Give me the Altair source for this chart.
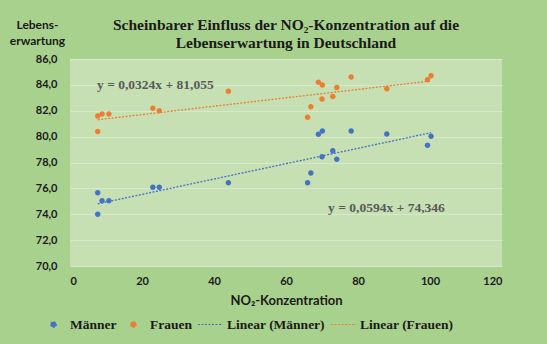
import altair as alt
import pandas as pd

# NO2 concentration (x) and life expectancy (y)
no2 = [7.7, 8.9, 10.8, 7.7, 23.0, 24.8, 44.0, 66.0, 66.9, 69.0, 70.1, 70.0, 73.0, 74.1, 78.1, 88.0, 99.3, 100.3]
maenner = [75.67, 75.05, 75.05, 74.0, 76.08, 76.08, 76.44, 76.44, 77.19, 80.18, 80.44, 78.45, 78.9, 78.25, 80.44, 80.2, 79.33, 80.03]
frauen = [81.6, 81.75, 81.75, 80.4, 82.2, 82.0, 83.5, 81.5, 82.3, 84.2, 84.0, 82.9, 83.1, 83.8, 84.6, 83.7, 84.4, 84.7]

series_names = ["Männer", "Frauen", "Linear (Männer)", "Linear (Frauen)"]
series_colors = ["#4472c4", "#ed7d31", "#4472c4", "#ed7d31"]
trend_slope = [0.0594, 0.0324]
trend_icept = [74.346, 81.055]
eq_labels = ["y = 0,0594x + 74,346", "y = 0,0324x + 81,055"]
eq_x = [71.7, 7.5]
eq_y = [74.5, 84.0]

rows = []
for x, m, f in zip(no2, maenner, frauen):
    rows.append({"x": x, "y": m, "series": "Männer"})
    rows.append({"x": x, "y": f, "series": "Frauen"})
pts = pd.DataFrame(rows)

xmin, xmax = min(no2), max(no2)
trows = []
for name, s, b in zip(["Linear (Männer)", "Linear (Frauen)"], trend_slope, trend_icept):
    for x in (xmin, xmax):
        trows.append({"x": x, "y": s * x + b, "series": name})
trend = pd.DataFrame(trows)

eqs = pd.DataFrame({"x": eq_x, "y": eq_y, "label": eq_labels})

DOT = "M -0.22,0 A 0.22,0.22 0 1,0 0.22,0 A 0.22,0.22 0 1,0 -0.22,0 Z"
LINE = "M -1,0 L 1,0"
color_scale = alt.Scale(domain=series_names, range=series_colors)
shape_scale = alt.Scale(domain=series_names, range=[DOT, DOT, LINE, LINE])

xscale = alt.Scale(domain=[0, 120], zero=False, nice=False)
yscale = alt.Scale(domain=[70, 86], zero=False, nice=False)

xaxis = alt.Axis(values=[0, 20, 40, 60, 80, 100, 120], grid=False, domain=False, ticks=False,
                 title="NO₂-Konzentration", labelPadding=9, titlePadding=8, labelOverlap=False,
                 labelFont="Lato", labelFontWeight="bold", labelFontSize=11, labelColor="#1a1a1a",
                 titleFont="Lato", titleFontWeight="bold", titleFontSize=13, titleColor="#1a1a1a")
yaxis = alt.Axis(values=[70, 72, 74, 76, 78, 80, 82, 84, 86], grid=True, gridColor="#d6e9ca",
                 gridWidth=1, domain=False, ticks=False, labelPadding=13, labelOverlap=False,
                 labelExpr="replace(format(datum.value, '.1f'), '.', ',')",
                 labelFont="Lato", labelFontWeight="bold", labelFontSize=11, labelColor="#1a1a1a",
                 title=["Lebens-", "erwartung"], titleAngle=0, titleAlign="center",
                 titleBaseline="alphabetic", titleX=-33, titleY=-31, titleLineHeight=16,
                 titleFont="Lato", titleFontWeight="bold", titleFontSize=12, titleColor="#1a1a1a")

legend = alt.Legend(title=None, orient="none", legendX=-30, legendY=252, direction="horizontal",
                    columns=4, columnPadding=3, labelFont="Liberation Serif", labelFontWeight="bold",
                    labelFontSize=13.5, labelColor="#1a1a1a", symbolSize=625, symbolStrokeWidth=1.2,
                    symbolDash=[2, 1.5], labelOffset=3)

xenc = alt.X("x:Q", scale=xscale, axis=xaxis)
yenc = alt.Y("y:Q", scale=yscale, axis=yaxis)

points = alt.Chart(pts).mark_point(filled=True, size=625, opacity=1).encode(
    x=xenc, y=yenc,
    color=alt.Color("series:N", scale=color_scale, legend=legend),
    shape=alt.Shape("series:N", scale=shape_scale, legend=legend),
)

lines = alt.Chart(trend).mark_line(strokeDash=[2, 1.5], strokeWidth=1.3).encode(
    x=xenc, y=yenc,
    color=alt.Color("series:N", scale=color_scale, legend=legend),
    detail="series:N",
)

texts = alt.Chart(eqs).mark_text(align="left", baseline="middle", font="Liberation Serif",
                                 fontWeight="bold", fontSize=13.5, color="#595959").encode(
    x=xenc, y=yenc, text="label:N")

chart = alt.layer(lines, points, texts).properties(
    width=432, height=207,
    title=alt.TitleParams(["Scheinbarer Einfluss der NO₂-Konzentration auf die",
                           "Lebenserwartung in Deutschland"],
                          font="Liberation Serif", fontSize=15.5, fontWeight="bold", color="#1a1a1a",
                          anchor="middle", lineHeight=18, offset=-33, frame="group"),
    autosize=alt.AutoSizeParams(type="none"),
    padding={"left": 70, "top": 59, "right": 45, "bottom": 78},
    background="#a9d18e",
).configure_view(fill="#c6e0b4", stroke=None)

chart.save("out.html", embed_options={"renderer": "svg", "actions": False})
